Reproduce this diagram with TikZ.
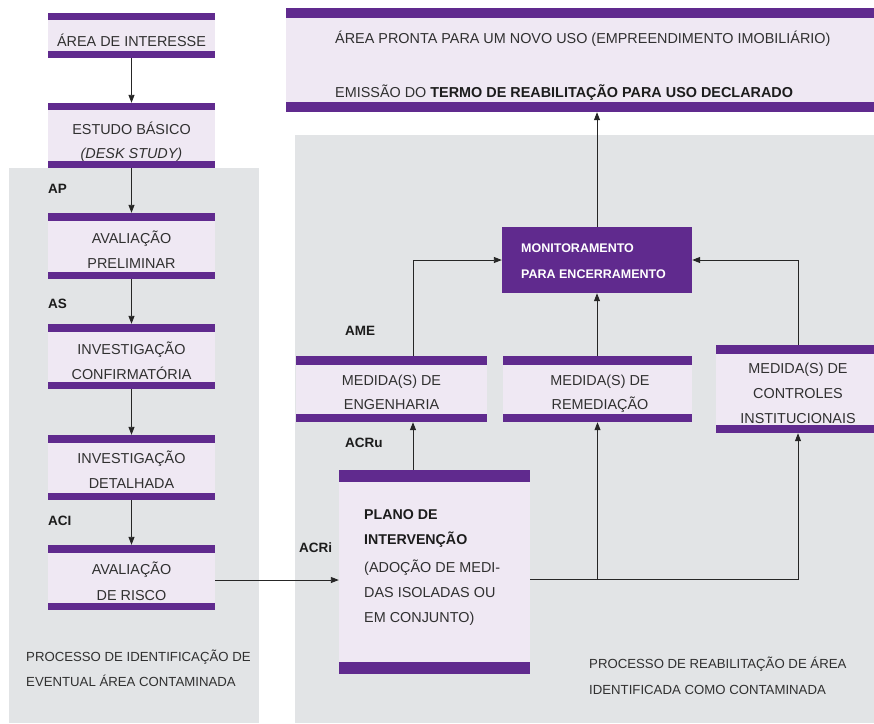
\documentclass[tikz,border=0pt]{standalone}
\usepackage{fontspec}
\setmainfont{Liberation Sans}
\usetikzlibrary{arrows.meta}
\definecolor{barc}{RGB}{96,42,142}
\definecolor{lav}{RGB}{239,232,243}
\definecolor{grayb}{RGB}{226,228,230}
\definecolor{txtc}{RGB}{48,48,48}
\definecolor{lblc}{RGB}{28,28,28}
\begin{document}
\begin{tikzpicture}[x=1pt,y=-1pt,
  bars/.style={path picture={
    \fill[barc] (path picture bounding box.north west) rectangle ([yshift=-#1]path picture bounding box.north east);
    \fill[barc] (path picture bounding box.south west) rectangle ([yshift=#1]path picture bounding box.south east);}},
  stg/.style={draw=none, fill=lav, inner sep=0pt},
  txt/.style={font=\fontsize{14.4}{17}\selectfont, text=txtc, inner sep=0pt, anchor=base},
  ltxt/.style={txt, anchor=base west},
  btxt/.style={ltxt, font=\fontsize{13.2}{16}\selectfont},
  lbl/.style={font=\fontsize{13.5}{16}\selectfont\bfseries, text=lblc, inner sep=0pt, anchor=base west},
  mtxt/.style={font=\fontsize{12.5}{15}\selectfont\bfseries, text=white, inner sep=0pt, anchor=base west},
  arr/.style={-{Triangle[length=8pt,width=6pt]}, line width=0.9pt, draw=black!85},
  ln/.style={line width=0.9pt, draw=black!85}
]
\useasboundingbox (0,0) rectangle (874,723);
\fill[white] (0,0) rectangle (874,723);
% backgrounds
\fill[grayb] (9,168) rectangle (259,723);
\fill[grayb] (295,135) rectangle (874,723);

% left column
\node[stg, bars=7pt, minimum width=167pt, minimum height=45pt] (b1) at (131.5,35.5) {};
\node[stg, bars=7pt, minimum width=167pt, minimum height=65pt] (b2) at (131.5,135.5) {};
\node[stg, bars=7.5pt, minimum width=167pt, minimum height=66pt] (b3) at (131.5,246) {};
\node[stg, bars=7.5pt, minimum width=167pt, minimum height=65pt] (b4) at (131.5,356.5) {};
\node[stg, bars=7.5pt, minimum width=167pt, minimum height=65pt] (b5) at (131.5,467.5) {};
\node[stg, bars=7.5pt, minimum width=167pt, minimum height=65pt] (b6) at (131.5,577.5) {};

\node[txt] (b1t) at (131.5,46) {ÁREA DE INTERESSE};
\node[txt] (b2ta) at (131.5,134.5) {ESTUDO BÁSICO};
\node[txt] (b2tb) at (131.5,158) {\itshape (DESK STUDY)};
\node[txt] (b3ta) at (131.5,243.5) {AVALIAÇÃO};
\node[txt] (b3tb) at (131.5,268) {PRELIMINAR};
\node[txt] (b4ta) at (131.5,354) {INVESTIGAÇÃO};
\node[txt] (b4tb) at (131.5,379) {CONFIRMATÓRIA};
\node[txt] (b5ta) at (131.5,463.5) {INVESTIGAÇÃO};
\node[txt] (b5tb) at (131.5,488.5) {DETALHADA};
\node[txt] (b6ta) at (131.5,574.5) {AVALIAÇÃO};
\node[txt] (b6tb) at (131.5,600) {DE RISCO};

\node[lbl] (lap) at (48,193) {AP};
\node[lbl] (las) at (48,308) {AS};
\node[lbl] (laci) at (48,525) {ACI};

% top box
\node[stg, bars=10pt, minimum width=594pt, minimum height=104pt] (top) at (583,60) {};
\node[ltxt] (topa) at (335,43) {ÁREA PRONTA PARA UM NOVO USO (EMPREENDIMENTO IMOBILIÁRIO)};
\node[ltxt] (topb) at (335,97) {EMISSÃO DO \textcolor{lblc}{\bfseries TERMO DE REABILITAÇÃO PARA USO DECLARADO}};

% monitor
\node[draw=none, fill=barc, inner sep=0pt, minimum width=190pt, minimum height=66pt] (mon) at (597,260) {};
\node[mtxt] (mona) at (521,252) {MONITORAMENTO};
\node[mtxt] (monb) at (521,278) {PARA ENCERRAMENTO};

% measures
\node[stg, bars=8.5pt, minimum width=191pt, minimum height=66pt] (eng) at (391.5,389) {};
\node[stg, bars=8.5pt, minimum width=189pt, minimum height=66pt] (rem) at (597.5,389) {};
\node[stg, bars=8.5pt, minimum width=164pt, minimum height=88pt] (ctl) at (798,389) {};

\node[txt] (enga) at (391.5,385) {MEDIDA(S) DE};
\node[txt] (engb) at (391.5,409.5) {ENGENHARIA};
\node[txt] (rema) at (600,385) {MEDIDA(S) DE};
\node[txt] (remb) at (600,409.5) {REMEDIAÇÃO};
\node[txt] (ctla) at (798,373.5) {MEDIDA(S) DE};
\node[txt] (ctlb) at (798,398) {CONTROLES};
\node[txt] (ctlc) at (798,423) {INSTITUCIONAIS};

\node[lbl] (lame) at (345,335) {AME};
\node[lbl] (lacru) at (345,447) {ACRu};
\node[lbl] (lacri) at (299,552) {ACRi};

% plan
\node[stg, bars=12pt, minimum width=191pt, minimum height=204pt] (plan) at (434.5,572) {};
\node[ltxt, text=lblc, font=\fontsize{14.2}{17}\selectfont\bfseries] (pla) at (364,519) {PLANO DE};
\node[ltxt, text=lblc, font=\fontsize{14.2}{17}\selectfont\bfseries] (plb) at (364,544) {INTERVENÇÃO};
\node[ltxt] (plc) at (364,572) {(ADOÇÃO DE MEDI-};
\node[ltxt] (pld) at (364,597) {DAS ISOLADAS OU};
\node[ltxt] (ple) at (364,622) {EM CONJUNTO)};

% bottom texts
\node[btxt] (bla) at (26,661) {PROCESSO DE IDENTIFICAÇÃO DE};
\node[btxt] (blb) at (26,686) {EVENTUAL ÁREA CONTAMINADA};
\node[btxt] (bra) at (589,668.5) {PROCESSO DE REABILITAÇÃO DE ÁREA};
\node[btxt] (brb) at (589,694) {IDENTIFICADA COMO CONTAMINADA};

% connectors left
\draw[arr] (b1.south) -- (b2.north);
\draw[arr] (b2.south) -- (b3.north);
\draw[arr] (b3.south) -- (b4.north);
\draw[arr] (b4.south) -- (b5.north);
\draw[arr] (b5.south) -- (b6.north);
\draw[arr] ([yshift=-2.5pt]b6.east) -- ([yshift=-2.5pt]b6.east -| plan.west);

% connectors right
\coordinate (split) at ([yshift=-7pt]plan.east -| rem.south);
\draw[ln] ([yshift=-7pt]plan.east) -- (split);
\draw[arr] (split) -| (ctl.south);
\draw[arr] (split) -- (split |- rem.south);
\draw[arr] ([xshift=-21.5pt]plan.north) -- ([xshift=21.5pt]eng.south);
\draw[arr] ([xshift=21.5pt]eng.north) |- (mon.west);
\draw[arr] (ctl.north) |- (mon.east);
\draw[arr] (rem.north -| mon.south) -- (mon.south);
\draw[arr] (mon.north) -- (mon.north |- top.south);
\end{tikzpicture}
\end{document}
